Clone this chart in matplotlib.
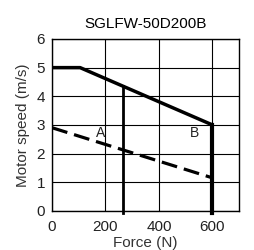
import matplotlib
matplotlib.use("Agg")
import matplotlib.pyplot as plt

plt.rcParams.update({
    'font.size': 11,
    'font.family': ['Liberation Sans', 'DejaVu Sans'],
})

# rated (continuous) curve: max speed vs force
limit_force = [0, 105, 600]
limit_speed = [5.0, 5.0, 3.0]

# dashed curve
dash_force = [0, 600]
dash_speed = [2.9, 1.15]

# vertical limits (continuous force A, peak force B)
cont_force = 266
cont_speed = 4.35
peak_force = 600
peak_speed = 3.0

region_labels = ['A', 'B']
region_x = [183, 535]
region_y = [2.72, 2.72]

xticks = [0, 200, 400, 600]
yticks = [0, 1, 2, 3, 4, 5, 6]

fig = plt.figure(figsize=(2.54, 2.5), dpi=100)
ax = fig.add_axes([0.205, 0.157, 0.736, 0.687])

ax.set_xlim(0, 700)
ax.set_ylim(0, 6)
ax.set_xticks(xticks)
ax.set_yticks(yticks)
ax.grid(True, color='black', linewidth=0.8)
ax.set_axisbelow(True)
ax.tick_params(length=0, colors='#222222')
ax.tick_params(axis='x', pad=7)
ax.tick_params(axis='y', pad=5)
for s in ax.spines.values():
    s.set_linewidth(1.0)

ax.plot(limit_force, limit_speed, color='black', linewidth=2.5, solid_capstyle='butt')
ax.plot(dash_force, dash_speed, color='black', linewidth=2.3, dashes=(5, 2.2))
ax.plot([cont_force, cont_force], [-0.08, cont_speed], color='black', linewidth=2.0,
        clip_on=False)
ax.plot([peak_force, peak_force], [-0.08, peak_speed], color='black', linewidth=3.0,
        clip_on=False)

for lab, x, y in zip(region_labels, region_x, region_y):
    ax.text(x, y, lab, fontsize=10, color='#222222', ha='center', va='center')

ax.set_title('SGLFW-50D200B', fontsize=11, pad=8)
ax.set_xlabel('Force (N)', color='#333333', labelpad=1)
ax.set_ylabel('Motor speed (m/s)', color='#333333', labelpad=5)

fig.savefig('out.png', dpi=100)
